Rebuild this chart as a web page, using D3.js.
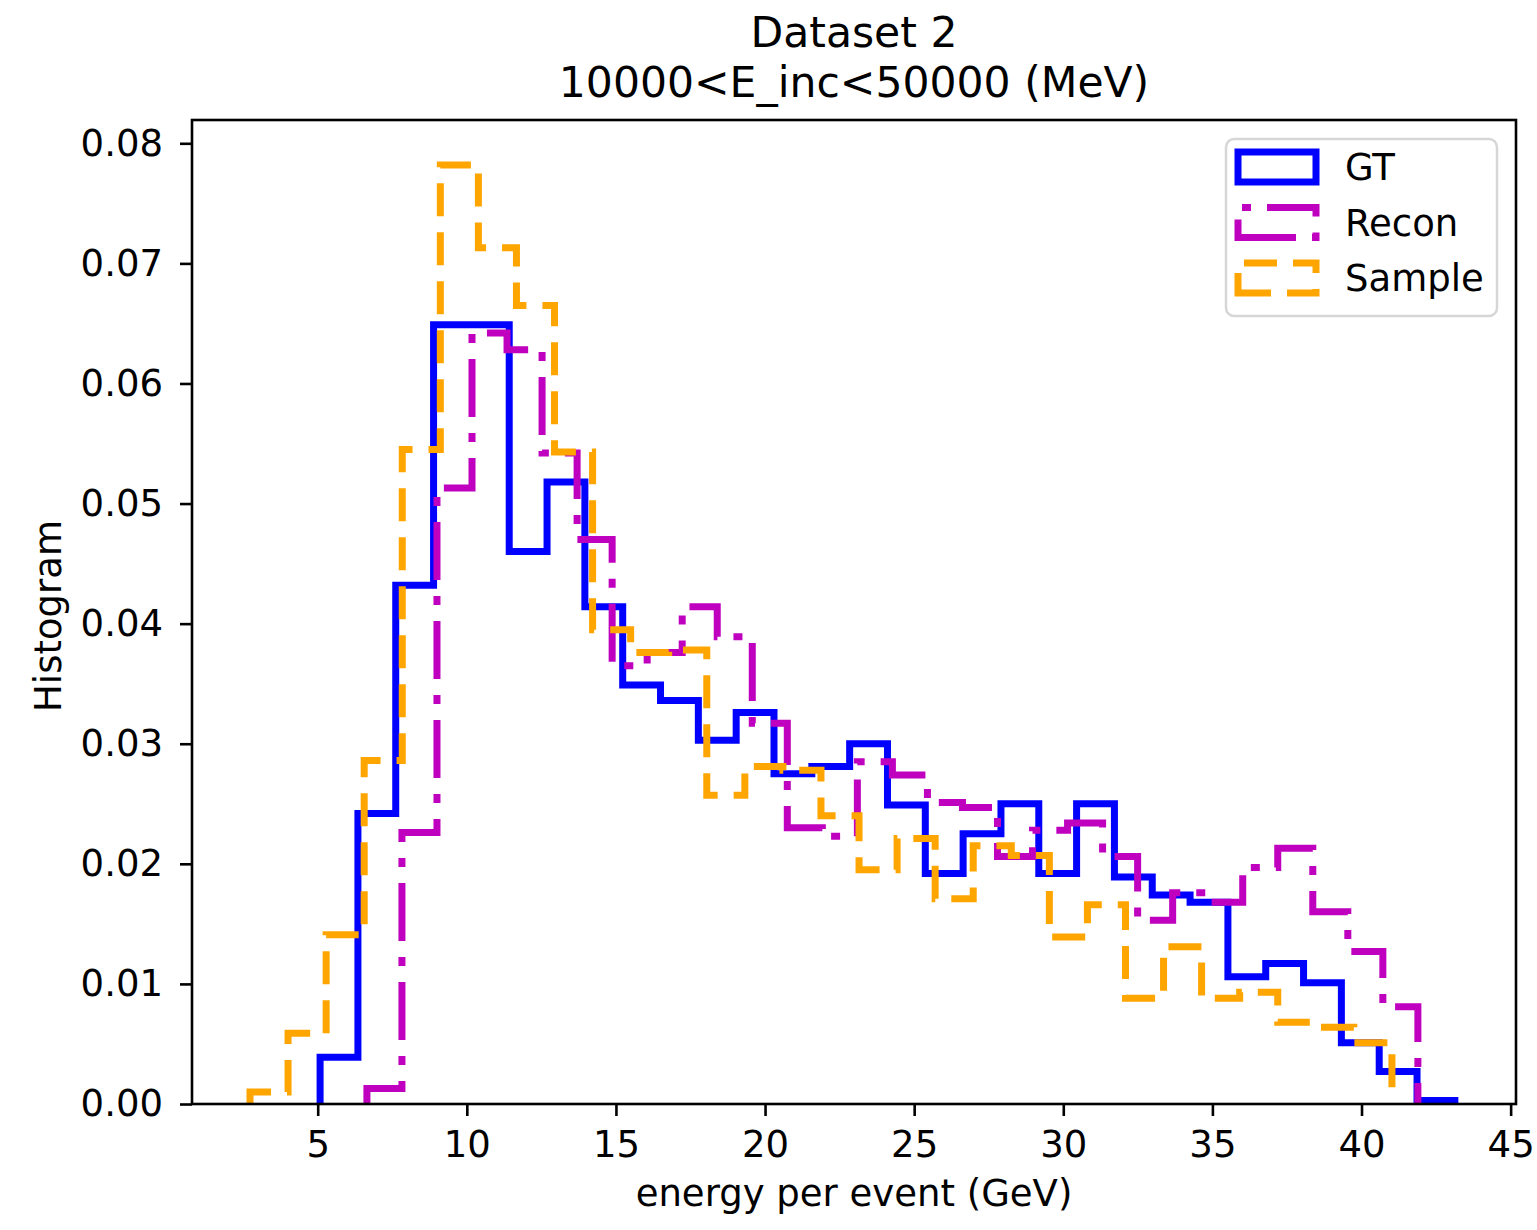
<!DOCTYPE html>
<html>
<head>
<meta charset="utf-8">
<script src="https://cdn.jsdelivr.net/npm/d3@7"></script>
<style>
  body { margin: 0; background: #fff; }
  text { font-family: "DejaVu Sans", sans-serif; fill: #000; }
</style>
</head>
<body>
<div id="chart"></div>
<script>
const width = 1537;
const height = 1230;
const margin = { top: 120, right: 21, bottom: 126, left: 192 };

// 30 equal-width bins per series, between each series' min and max
const nBins = 30;
const gtRange = [5.08, 43.13];
const reconRange = [6.65, 41.89];
const sampleRange = [2.73, 41.02];

const gtValues = [0.0039, 0.0242, 0.0432, 0.0649, 0.0649, 0.0460, 0.0518, 0.0414, 0.0349, 0.0336,
    0.0303, 0.0326, 0.0275, 0.0281, 0.0300, 0.0249, 0.0192, 0.0225, 0.0250, 0.0192,
    0.0250, 0.0189, 0.0174, 0.0168, 0.0106, 0.0117, 0.0101, 0.0051, 0.0027, 0.0003];
const reconValues = [0.0013, 0.0226, 0.0513, 0.0642, 0.0628, 0.0542, 0.0470, 0.0365, 0.0376, 0.0414,
    0.0389, 0.0317, 0.0230, 0.0223, 0.0285, 0.0274, 0.0251, 0.0247, 0.0206, 0.0228,
    0.0234, 0.0206, 0.0153, 0.0176, 0.0168, 0.0197, 0.0213, 0.0160, 0.0127, 0.0081];
const sampleValues = [0.0010, 0.0059, 0.0141, 0.0286, 0.0545, 0.0782, 0.0713, 0.0665, 0.0543, 0.0395,
    0.0376, 0.0378, 0.0257, 0.0281, 0.0278, 0.0240, 0.0195, 0.0221, 0.0171, 0.0215,
    0.0207, 0.0139, 0.0166, 0.0088, 0.0131, 0.0088, 0.0093, 0.0068, 0.0064, 0.0051];

const xTicks = [5, 10, 15, 20, 25, 30, 35, 40, 45];
const yTicks = [0, 0.01, 0.02, 0.03, 0.04, 0.05, 0.06, 0.07, 0.08];

const series = [
    { name: "GT", range: gtRange, values: gtValues, color: "#0000ff", dash: null },
    { name: "Recon", range: reconRange, values: reconValues, color: "#bf00bf", dash: "58,16,9,16" },
    { name: "Sample", range: sampleRange, values: sampleValues, color: "#ffa500", dash: "33,16" }
];

const lineWidth = 7;
const labelSize = "37px";
const titleSize = "42.5px";

const svg = d3.select("#chart")
    .append("svg")
    .attr("width", width)
    .attr("height", height);

const innerW = width - margin.left - margin.right;
const innerH = height - margin.top - margin.bottom;

const x = d3.scaleLinear().domain([0.785, 45.18]).range([margin.left, margin.left + innerW]);
const y = d3.scaleLinear().domain([0, 0.08194]).range([margin.top + innerH, margin.top]);

// step outline like matplotlib histtype='step'
function stepPoints(s) {
    const edges = d3.range(nBins + 1).map(i => s.range[0] + i * (s.range[1] - s.range[0]) / nBins);
    const pts = [[edges[0], 0]];
    s.values.forEach((v, i) => {
        pts.push([edges[i], v]);
        pts.push([edges[i + 1], v]);
    });
    pts.push([edges[nBins], 0]);
    return pts;
}

const line = d3.line().x(d => x(d[0])).y(d => y(d[1]));

svg.append("clipPath").attr("id", "clip")
    .append("rect")
    .attr("x", margin.left).attr("y", margin.top)
    .attr("width", innerW).attr("height", innerH);

const plot = svg.append("g").attr("clip-path", "url(#clip)");

series.forEach(s => {
    plot.append("path")
        .attr("d", line(stepPoints(s)))
        .attr("fill", "none")
        .attr("stroke", s.color)
        .attr("stroke-width", lineWidth)
        .attr("stroke-linejoin", "miter")
        .attr("stroke-dasharray", s.dash);
});

// axes
const xAxis = d3.axisBottom(x).tickValues(xTicks).tickSize(12).tickPadding(15).tickFormat(d3.format("d"));
const yAxis = d3.axisLeft(y).tickValues(yTicks).tickSize(12).tickPadding(17).tickFormat(d3.format(".2f"));

const gx = svg.append("g")
    .attr("transform", `translate(0, ${margin.top + innerH})`)
    .call(xAxis);
const gy = svg.append("g")
    .attr("transform", `translate(${margin.left}, 0)`)
    .call(yAxis);

[gx, gy].forEach(g => {
    g.select(".domain").remove();
    g.selectAll(".tick line").attr("stroke", "#000").attr("stroke-width", 2.6);
    g.selectAll(".tick text")
        .attr("font-size", labelSize)
        .attr("font-family", "DejaVu Sans")
        .attr("fill", "#000");
});

// frame
svg.append("rect")
    .attr("x", margin.left).attr("y", margin.top)
    .attr("width", innerW).attr("height", innerH)
    .attr("fill", "none")
    .attr("stroke", "#000")
    .attr("stroke-width", 2.6);

// titles
svg.append("text")
    .attr("x", margin.left + innerW / 2).attr("y", 47)
    .attr("text-anchor", "middle")
    .attr("font-size", titleSize)
    .text("Dataset 2");
svg.append("text")
    .attr("x", margin.left + innerW / 2).attr("y", 97)
    .attr("text-anchor", "middle")
    .attr("font-size", titleSize)
    .text("10000<E_inc<50000 (MeV)");

svg.append("text")
    .attr("x", margin.left + innerW / 2).attr("y", 1206)
    .attr("text-anchor", "middle")
    .attr("font-size", labelSize)
    .text("energy per event (GeV)");

svg.append("text")
    .attr("transform", `translate(61, ${margin.top + innerH / 2 + 4}) rotate(-90)`)
    .attr("text-anchor", "middle")
    .attr("font-size", labelSize)
    .text("Histogram");

// legend
const legend = svg.append("g").attr("transform", "translate(1226, 139)");
legend.append("rect")
    .attr("width", 271).attr("height", 177)
    .attr("rx", 8).attr("ry", 8)
    .attr("fill", "#fff").attr("fill-opacity", 0.8)
    .attr("stroke", "#d6d6d6").attr("stroke-width", 2.5);

series.forEach((s, i) => {
    const top = 13 + i * 55.5;
    const w = 78, h = 30, x0 = 12;
    // outline drawn from bottom-left, counter clockwise, like a matplotlib patch
    const p = `M${x0},${top + h} H${x0 + w} V${top} H${x0} Z`;
    legend.append("path")
        .attr("d", p)
        .attr("fill", "none")
        .attr("stroke", s.color)
        .attr("stroke-width", lineWidth)
        .attr("stroke-dasharray", s.dash);
    legend.append("text")
        .attr("x", 119).attr("y", top + h / 2 + 13)
        .attr("font-size", labelSize)
        .text(s.name);
});
</script>
</body>
</html>
